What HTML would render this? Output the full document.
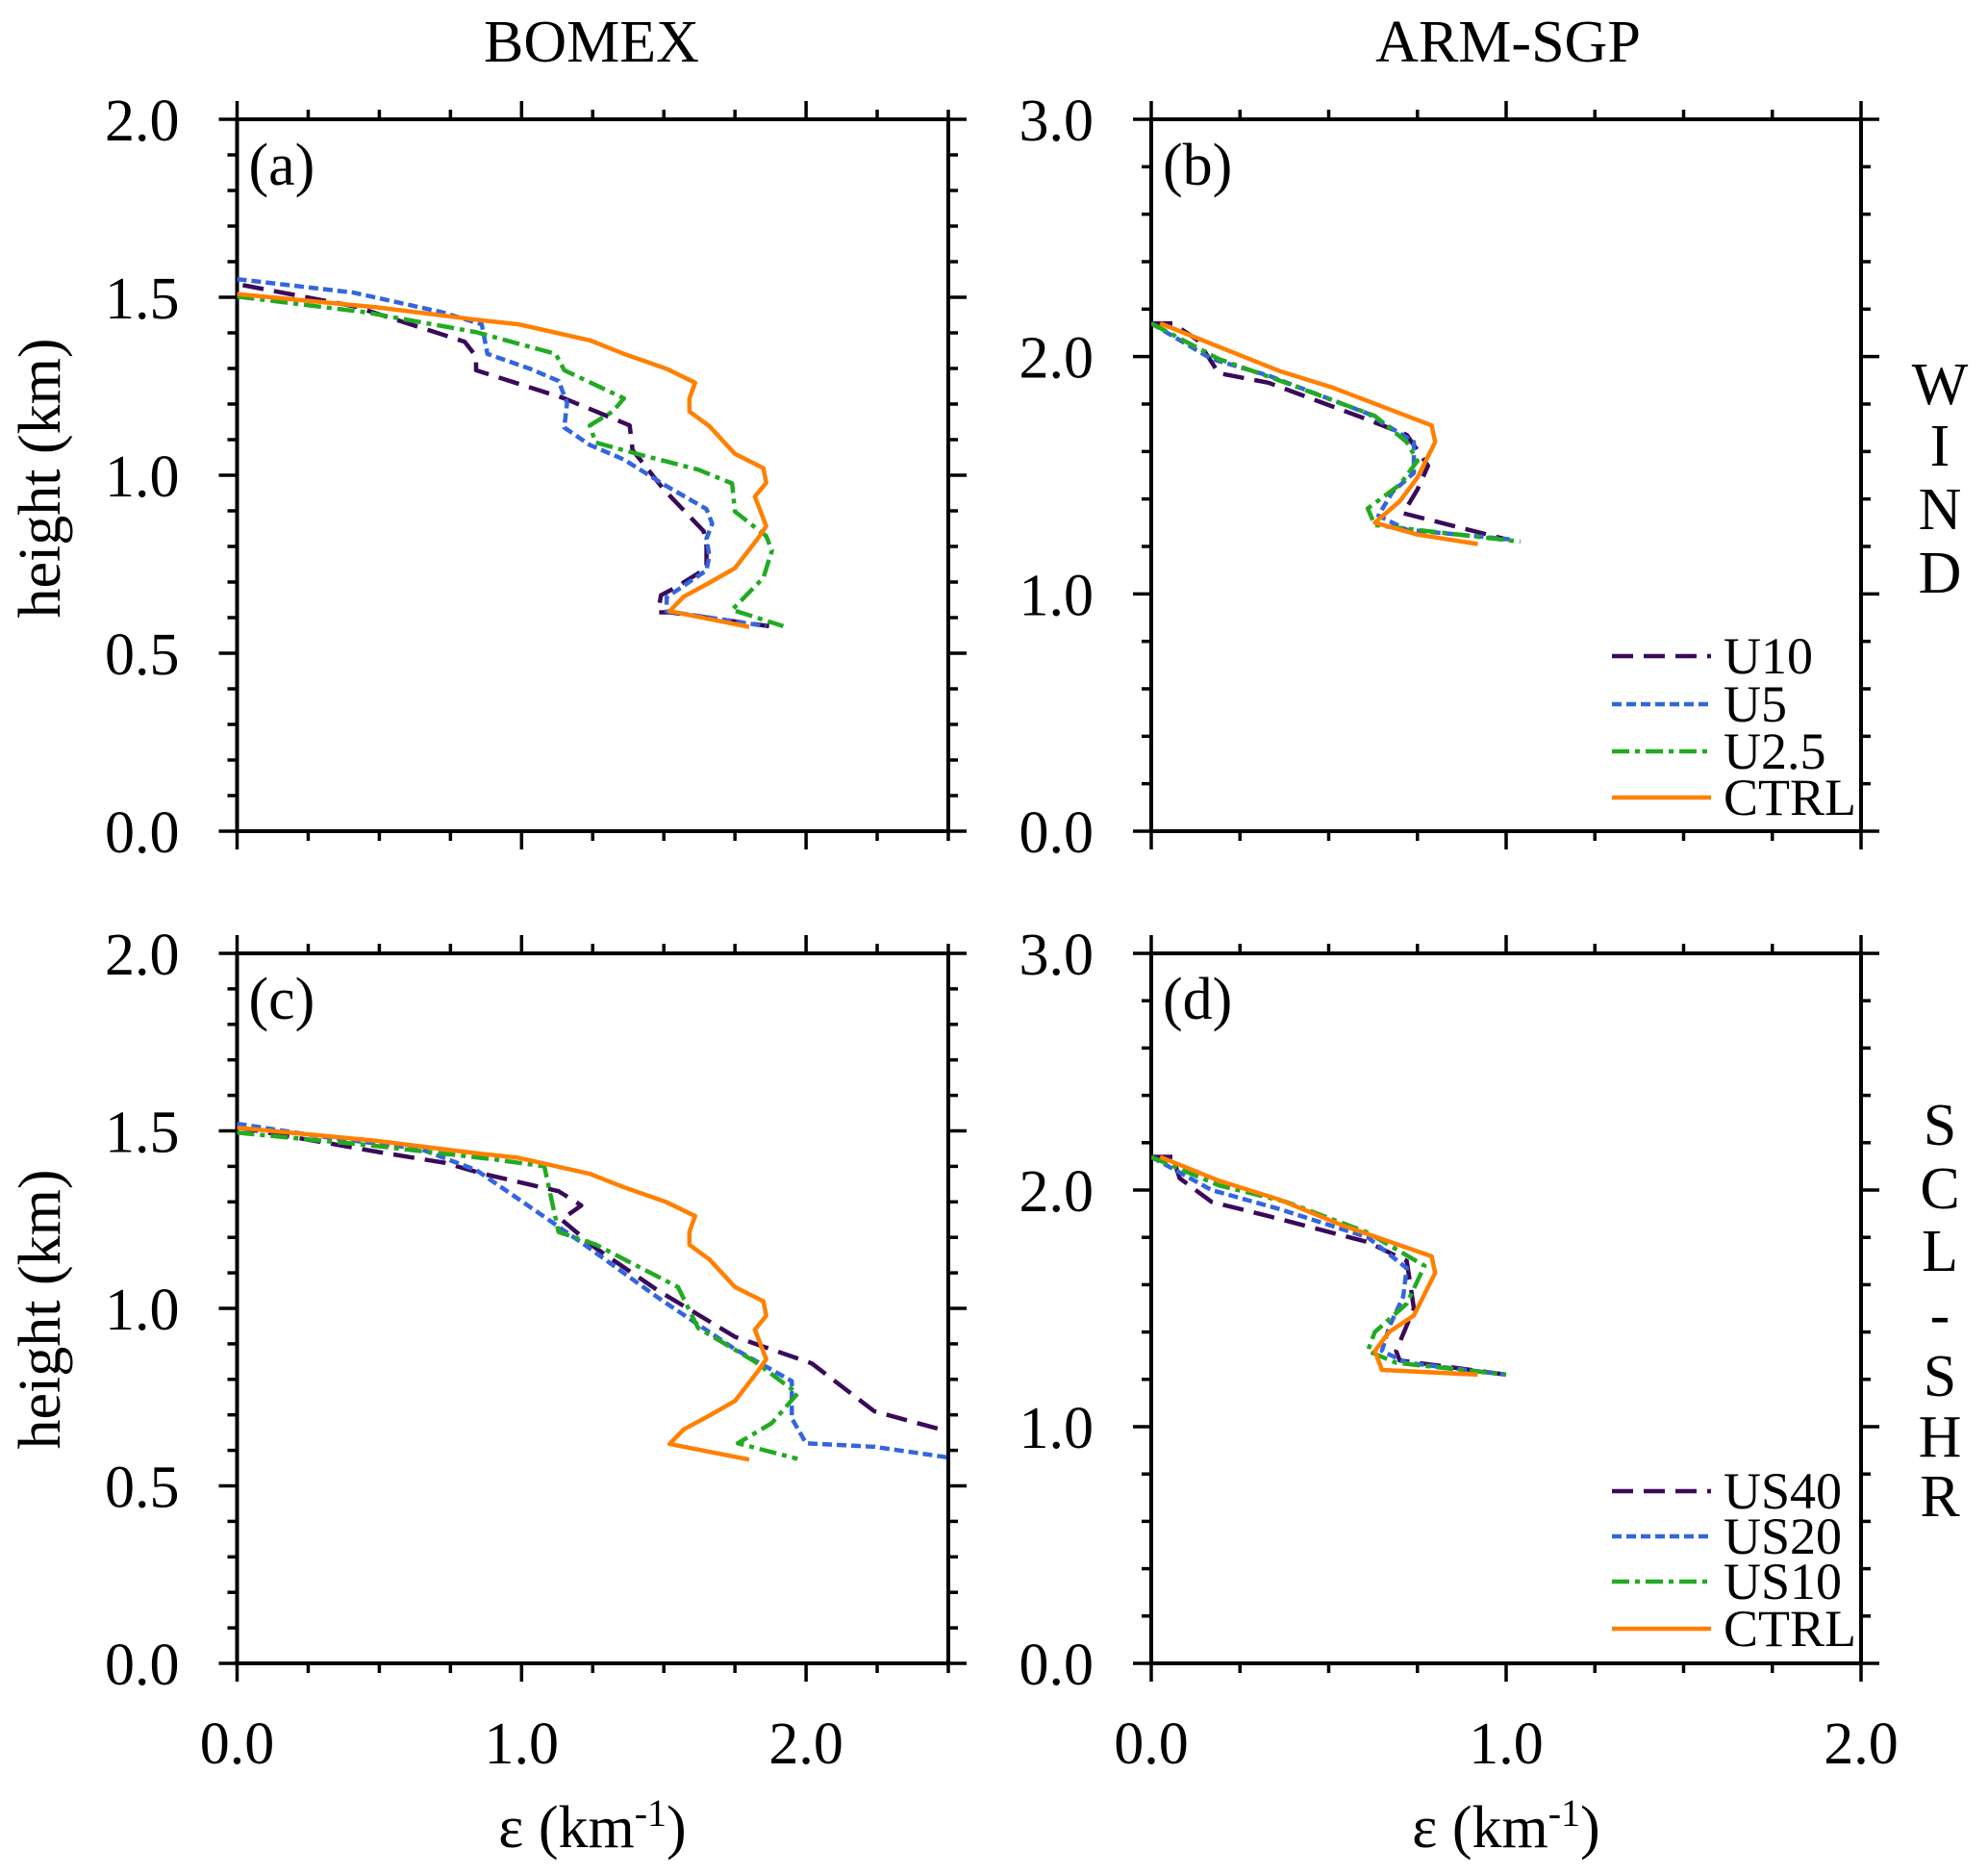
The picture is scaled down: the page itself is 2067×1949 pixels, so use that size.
<!DOCTYPE html>
<html><head><meta charset="utf-8"><style>
html,body{margin:0;padding:0;background:#fff;}
svg{display:block;font-family:"Liberation Serif",serif;}
</style></head><body>
<svg id="chart" width="2067" height="1949" viewBox="0 0 2067 1949" xmlns="http://www.w3.org/2000/svg"></svg>
<script>
// ---------- data ----------
const seriesNames = ['U10','U5','U2.5','CTRL'];
const seriesNames2 = ['US40','US20','US10','CTRL'];
const aCTRL = [[0,1.509],[0.49,1.472],[0.84,1.437],[0.99,1.424],[1.24,1.379],[1.36,1.341],[1.51,1.299],[1.61,1.26],[1.59,1.216],[1.59,1.179],[1.66,1.138],[1.75,1.06],[1.85,1.02],[1.86,0.979],[1.82,0.94],[1.86,0.857],[1.83,0.822],[1.75,0.739],[1.66,0.698],[1.57,0.659],[1.52,0.618],[1.80,0.574]];
const aU10 = [[0.02,1.534],[0.41,1.475],[0.68,1.406],[0.80,1.375],[0.84,1.334],[0.84,1.295],[1.15,1.216],[1.38,1.14],[1.39,1.071],[1.50,0.96],[1.64,0.843],[1.65,0.80],[1.65,0.739],[1.54,0.684],[1.49,0.663],[1.48,0.615],[1.52,0.615],[1.87,0.576]];
const aU5 = [[0,1.551],[0.41,1.513],[0.72,1.458],[0.86,1.424],[0.88,1.341],[1.03,1.299],[1.13,1.265],[1.16,1.203],[1.15,1.134],[1.24,1.085],[1.36,1.044],[1.50,0.974],[1.65,0.905],[1.67,0.864],[1.65,0.822],[1.66,0.774],[1.65,0.733],[1.51,0.657],[1.51,0.618],[1.86,0.576]];
const aU25 = [[0,1.502],[0.45,1.458],[0.84,1.402],[1.12,1.341],[1.15,1.295],[1.36,1.216],[1.32,1.179],[1.24,1.14],[1.26,1.092],[1.42,1.057],[1.62,1.016],[1.74,0.977],[1.75,0.898],[1.86,0.829],[1.88,0.788],[1.85,0.712],[1.74,0.622],[1.92,0.576]];
const bCTRL = [[0.025,2.14],[0.26,2.0],[0.36,1.94],[0.51,1.87],[0.79,1.71],[0.80,1.64],[0.75,1.49],[0.70,1.39],[0.63,1.30],[0.75,1.25],[0.92,1.21]];
const bU10 = [[0,2.14],[0.06,2.14],[0.13,2.07],[0.19,1.93],[0.33,1.89],[0.60,1.74],[0.72,1.67],[0.78,1.54],[0.75,1.44],[0.71,1.34],[1.0,1.23]];
const bU5 = [[0,2.14],[0.17,1.99],[0.33,1.92],[0.61,1.76],[0.74,1.64],[0.74,1.51],[0.68,1.43],[0.64,1.33],[0.72,1.27],[1.01,1.23]];
const bU25 = [[0,2.14],[0.19,1.99],[0.36,1.90],[0.63,1.75],[0.72,1.64],[0.75,1.56],[0.70,1.46],[0.61,1.36],[0.63,1.29],[1.04,1.22]];
const cCTRL = aCTRL;
const cUS40 = [[0,1.51],[0.5,1.44],[0.73,1.41],[0.86,1.38],[1.13,1.33],[1.21,1.29],[1.14,1.25],[1.26,1.17],[1.48,1.05],[1.75,0.92],[2.02,0.845],[2.24,0.71],[2.5,0.653]];
const cUS20 = [[0,1.52],[0.33,1.48],[0.64,1.45],[0.84,1.39],[1.04,1.28],[1.22,1.18],[1.48,1.03],[1.75,0.885],[1.95,0.795],[1.95,0.69],[2.0,0.62],[2.24,0.61],[2.5,0.58]];
const cUS10 = [[0,1.495],[0.46,1.46],[0.90,1.42],[1.08,1.40],[1.13,1.215],[1.26,1.18],[1.55,1.06],[1.62,0.945],[1.82,0.85],[1.97,0.76],[1.88,0.677],[1.76,0.62],[1.97,0.576]];
const dCTRL = [[0.025,2.14],[0.19,2.04],[0.36,1.96],[0.54,1.85],[0.79,1.72],[0.80,1.65],[0.74,1.47],[0.67,1.40],[0.63,1.32],[0.65,1.24],[0.92,1.22]];
const dUS40 = [[0,2.14],[0.06,2.14],[0.08,2.05],[0.17,1.95],[0.33,1.89],[0.61,1.78],[0.72,1.70],[0.74,1.50],[0.69,1.32],[0.70,1.28],[1.0,1.22]];
const dUS20 = [[0,2.14],[0.17,2.0],[0.36,1.92],[0.61,1.80],[0.72,1.67],[0.71,1.55],[0.67,1.42],[0.65,1.32],[0.72,1.27],[1.0,1.22]];
const dUS10 = [[0,2.14],[0.19,2.02],[0.38,1.95],[0.61,1.82],[0.77,1.68],[0.72,1.52],[0.63,1.40],[0.61,1.32],[0.69,1.27],[1.0,1.22]];
const bomexYTicks = ['0.0','0.5','1.0','1.5','2.0'];
const armYTicks = ['0.0','1.0','2.0','3.0'];
const bomexXTicks = ['0.0','1.0','2.0'];
const armXTicks = ['0.0','1.0','2.0'];

// ---------- drawing ----------
const NS='http://www.w3.org/2000/svg';
const svg=document.getElementById('chart');
function mk(tag,attrs,parent){const e=document.createElementNS(NS,tag);for(const k in attrs)e.setAttribute(k,attrs[k]);(parent||svg).appendChild(e);return e;}
const styles=[
 {c:'#3a0a5a',d:'22 11'},
 {c:'#3366dd',d:'10 5'},
 {c:'#22aa22',d:'18 6 5 6'},
 {c:'#ff8000',d:''}
];
const FS=62;
function panel(id,L,R,T,B,xmax,ymax,xMajor,xMinor,yMajor,yMinor,xlabels,ylabels,series,label,showXLabels){
  const g=mk('g',{});
  
  
  const X=v=>L+(R-L)*v/xmax, Y=v=>B-(B-T)*v/ymax;
  const cp=mk('clipPath',{id:'clip'+id},g);
  mk('rect',{x:L,y:T,width:R-L,height:B-T},cp);
  const tk=mk('g',{stroke:'#000','stroke-width':3.5},g);
  
  
  for(let v=0;v<=xmax+1e-9;v+=xMinor){
    const maj=Math.abs(v/xMajor-Math.round(v/xMajor))<1e-6;const len=maj?19:10;
    mk('line',{x1:X(v),x2:X(v),y1:B,y2:B+len},tk);
    mk('line',{x1:X(v),x2:X(v),y1:T,y2:T-len},tk);
  }
  for(let v=0;v<=ymax+1e-9;v+=yMinor){
    const maj=Math.abs(v/yMajor-Math.round(v/yMajor))<1e-6;const len=maj?19:10;
    mk('line',{x1:L,x2:L-len,y1:Y(v),y2:Y(v)},tk);
    mk('line',{x1:R,x2:R+len,y1:Y(v),y2:Y(v)},tk);
  }
  const fr=mk('rect',{x:L,y:T,width:R-L,height:B-T,fill:'none',stroke:'#000','stroke-width':4},g);
  
  
  ylabels.forEach((t,i)=>{
    const v=i*yMajor;
    const e=mk('text',{x:L-60,y:Y(v)+22,'text-anchor':'end','font-size':FS},g);
    e.textContent=t;
    
    
  });
  if(showXLabels) xlabels.forEach((t,i)=>{
    const v=i*xMajor;
    const e=mk('text',{x:X(v),y:B+104,'text-anchor':'middle','font-size':FS},g);
    e.textContent=t;
    
    
  });
  const pl=mk('text',{x:L+12,y:T+68,'font-size':FS},g);
  pl.textContent=label;
  
  
  const sg=mk('g',{'clip-path':'url(#clip'+id+')'},g);
  series.forEach((s,i)=>{
    const p=mk('polyline',{points:s.map(q=>X(q[0])+','+Y(q[1])).join(' '),fill:'none',stroke:styles[i].c,'stroke-width':4.5,'stroke-dasharray':styles[i].d,'stroke-linejoin':'round'},sg);
    
    
  });
}
panel('a',246.5,986,124,864,2.5,2,1,0.25,0.5,0.1,bomexXTicks,bomexYTicks,[aU10,aU5,aU25,aCTRL],'(a)',false);
panel('b',1197,1935,124,864,2,3,1,0.25,1,0.2,armXTicks,armYTicks,[bU10,bU5,bU25,bCTRL],'(b)',false);
panel('c',246.5,986,991,1729,2.5,2,1,0.25,0.5,0.1,bomexXTicks,bomexYTicks,[cUS40,cUS20,cUS10,cCTRL],'(c)',true);
panel('d',1197,1935,991,1729,2,3,1,0.25,1,0.2,armXTicks,armYTicks,[dUS40,dUS20,dUS10,dCTRL],'(d)',true);

function legend(names,ys){
  const g=mk('g',{});
  
  
  names.forEach((n,i)=>{
    const l=mk('line',{x1:1676,x2:1779,y1:ys[i],y2:ys[i],stroke:styles[i].c,'stroke-width':4.5,'stroke-dasharray':styles[i].d},g);
    
    
    const t=mk('text',{x:1792,y:ys[i]+18,'font-size':54},g);
    t.textContent=n;
    
    
  });
}
legend(seriesNames,[682,732,781,829]);
legend(seriesNames2,[1550,1597,1644,1693]);

function txt(s,x,y,size,name,extra){const e=mk('text',Object.assign({x:x,y:y,'text-anchor':'middle','font-size':size},extra||{}));e.textContent=s;return e;}
txt('BOMEX',615,64,FS,'column-title-bomex');
txt('ARM-SGP',1568,64,FS,'column-title-arm-sgp');
txt('height (km)',0,0,FS,'y-axis-title',{transform:'translate(62,497) rotate(-90)'});
txt('height (km)',0,0,FS,'y-axis-title',{transform:'translate(62,1361) rotate(-90)'});
'WIND'.split('').forEach((c,i)=>txt(c,2017,[398,462,528,594][i]+22,FS,'row-label-wind'));
'SCL-SHR'.split('').forEach((c,i)=>txt(c,2017,[1168,1234,1299,1365,1429,1492,1554][i]+22,FS,'row-label-scl-shr'));
function xt(x){const e=txt('',x,1920,FS,'x-axis-title');
 e.innerHTML='ε (km<tspan baseline-shift="super" font-size="40">-1</tspan>)';}
xt(616);xt(1566);
</script>
</body></html>
